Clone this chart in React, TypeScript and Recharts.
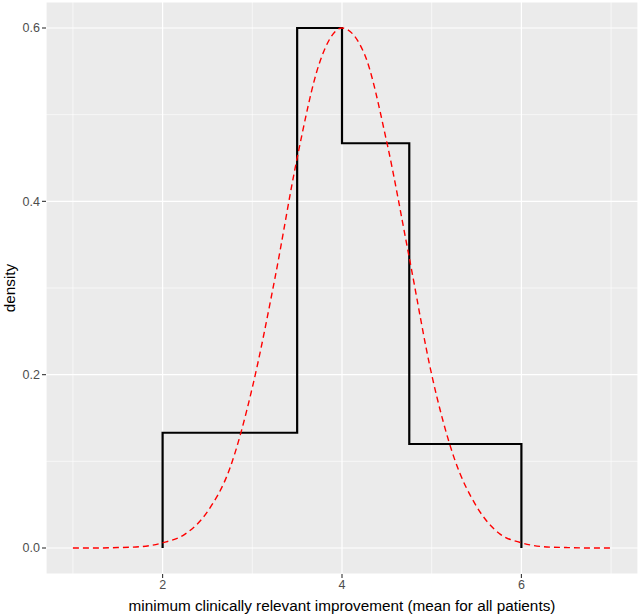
import React from 'react';
import { ComposedChart, Line, XAxis, YAxis, CartesianGrid, ReferenceLine } from 'recharts';

// histogram outline (bin edges and densities)
const binEdges = [2, 3.5, 4, 4.75, 6];
const binDensity = [0.133, 0.6, 0.467, 0.12];

// red dashed density curve
const curveX = [1, 1.25, 1.5, 1.75, 2, 2.25, 2.5, 2.75, 3, 3.25, 3.5, 3.75, 4, 4.25, 4.5, 4.75, 5, 5.25, 5.5, 5.75, 6, 6.25, 6.5, 6.75, 7];
const curveY = [0, 0, 0.0005, 0.0015, 0.006, 0.016, 0.042, 0.092, 0.185, 0.31, 0.45, 0.56, 0.6, 0.57, 0.468, 0.335, 0.2, 0.104, 0.048, 0.017, 0.006, 0.0015, 0.0005, 0, 0];

const xTicks = [2, 4, 6];
const yTicks = [0, 0.2, 0.4, 0.6];
const xMinor = [1, 3, 5, 7];
const yMinor = [0.1, 0.3, 0.5];

const outline: { x: number; y: number }[] = [];
binEdges.forEach((edge, i) => {
  const prev = i === 0 ? 0 : binDensity[i - 1];
  const next = i < binDensity.length ? binDensity[i] : 0;
  outline.push({ x: edge, y: prev });
  outline.push({ x: edge, y: next });
});

const curve = curveX.map((x, i) => ({ x, y: curveY[i] }));

const font = 'Liberation Sans, Arial, sans-serif';
const tickStyle = { fontFamily: font, fontSize: 12.5, fill: '#4D4D4D' };

export default function App() {
  return (
    <div style={{ position: 'absolute', left: 0, top: 0, width: 641, height: 616, background: '#fff' }}>
      <ComposedChart width={641} height={616} margin={{ top: 2, right: 3, bottom: 0, left: 0 }}>
        <CartesianGrid fill="#EBEBEB" stroke="#FFFFFF" strokeWidth={1.2} />
        {xMinor.map(v => (
          <ReferenceLine key={'xm' + v} x={v} stroke="#FFFFFF" strokeWidth={0.6} />
        ))}
        {yMinor.map(v => (
          <ReferenceLine key={'ym' + v} y={v} stroke="#FFFFFF" strokeWidth={0.6} />
        ))}
        <XAxis
          dataKey="x"
          type="number"
          domain={[0.7, 7.3]}
          ticks={xTicks}
          allowDataOverflow
          height={42}
          axisLine={false}
          tickLine={{ stroke: '#333333', strokeWidth: 1.1 }}
          tickSize={4}
          tick={tickStyle}
          tickMargin={2}
          label={{
            value: 'minimum clinically relevant improvement (mean for all patients)',
            position: 'insideBottom',
            offset: 5,
            style: { fontFamily: font, fontSize: 15.3, fill: '#000' },
          }}
        />
        <YAxis
          type="number"
          domain={[-0.03, 0.63]}
          ticks={yTicks}
          allowDataOverflow
          width={46}
          axisLine={false}
          tickLine={{ stroke: '#333333', strokeWidth: 1.1 }}
          tickSize={4}
          tickMargin={2}
          tick={tickStyle}
          tickFormatter={(v: number) => v.toFixed(1)}
          label={{
            value: 'density',
            angle: -90,
            position: 'insideLeft',
            offset: 10,
            style: { fontFamily: font, fontSize: 15.3, fill: '#000', textAnchor: 'middle' },
          }}
        />
        <Line
          data={outline}
          dataKey="y"
          type="linear"
          stroke="#000000"
          strokeWidth={2.2}
          dot={false}
          isAnimationActive={false}
        />
        <Line
          data={curve}
          dataKey="y"
          type="monotone"
          stroke="#FF0000"
          strokeWidth={1.4}
          strokeDasharray="6 4"
          dot={false}
          isAnimationActive={false}
        />
      </ComposedChart>
    </div>
  );
}
